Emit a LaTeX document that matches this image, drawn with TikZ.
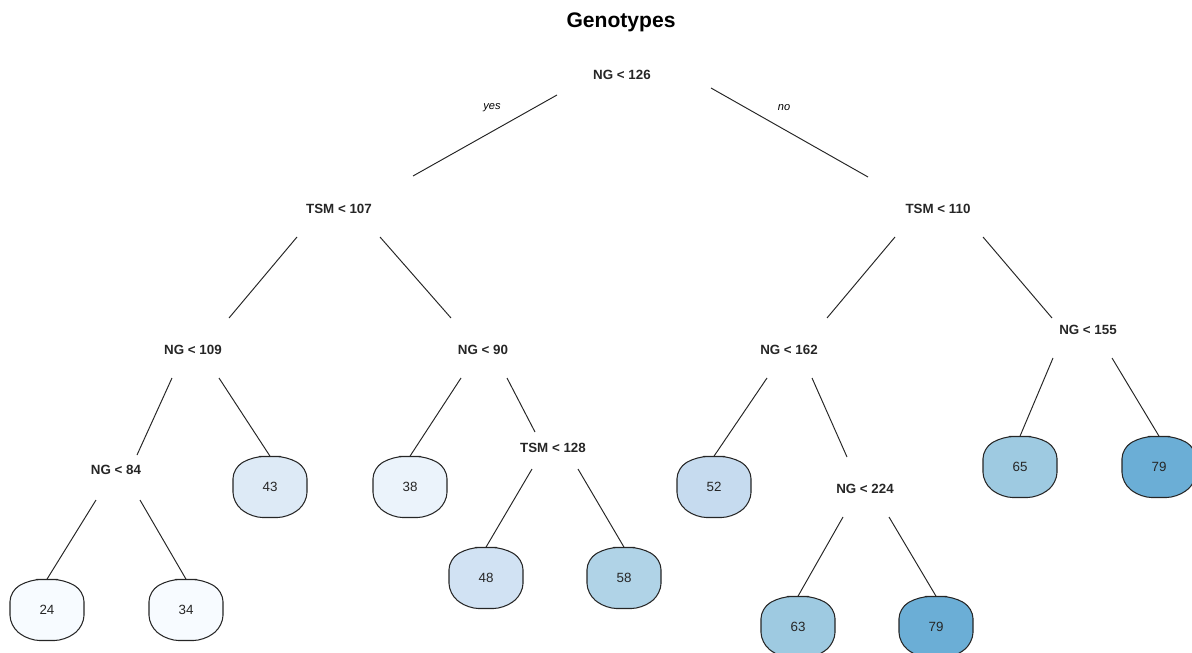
\documentclass[tikz,border=0pt]{standalone}
\usepackage{fontspec}
\setmainfont{Liberation Sans}
\usetikzlibrary{positioning,calc}

\definecolor{blA}{HTML}{F7FBFF}
\definecolor{blB}{HTML}{EBF3FB}
\definecolor{blC}{HTML}{DDEAF6}
\definecolor{blD}{HTML}{D1E2F3}
\definecolor{blE}{HTML}{C6DBEF}
\definecolor{blF}{HTML}{B0D3E7}
\definecolor{blG}{HTML}{9ECAE1}
\definecolor{blH}{HTML}{6BAED6}

\tikzset{
	split/.style = {inner sep = 1pt, text = black!85, font = \fontsize{7.6}{9}\selectfont\bfseries},
	leaf/.style = {inner sep = 0pt, minimum width = 1.48cm, minimum height = 1.22cm, text = black!85, font = \fontsize{7.6}{9}\selectfont},
	leafline/.style = {line width = 0.6pt, draw = black!85, rounded corners = 6pt, line join = round},
	branch/.style = {line width = 0.55pt, draw = black!85},
	side/.style = {font = \fontsize{6.3}{7}\selectfont\itshape}
}

% leaf box: name, position, colour, value
\newcommand{\leafnode}[4]{
	\begin{scope}[shift = {(#2)}]
		\draw [leafline, fill = #3] (0,-30.5) -- (-17,-30.5) -- (-37,-19) -- (-37,16) -- (-18,30.5)
			-- (18,30.5) -- (37,16) -- (37,-19) -- (17,-30.5) -- cycle;
		\node [leaf] (#1) at (0,0) {#4};
	\end{scope}
}

\begin{document}
\begin{tikzpicture}[x = 0.02cm, y = -0.02cm]
\useasboundingbox (0,0) rectangle (1192,652);

\node [font = \fontsize{12}{14}\selectfont\bfseries] (title) at (621,22) {Genotypes};

% splits
\node [split] (root) at (622,75) {NG < 126};
\node [split] (tl) at (339,209) {TSM < 107};
\node [split] (tr) at (938,209) {TSM < 110};
\node [split] (ngA) at (193,350) {NG < 109};
\node [split] (ngB) at (483,350) {NG < 90};
\node [split] (ngC) at (789,350) {NG < 162};
\node [split] (ngD) at (1088,330) {NG < 155};
\node [split] (ngE) at (116,470) {NG < 84};
\node [split] (tsm) at (553,448) {TSM < 128};
\node [split] (ngF) at (865,489) {NG < 224};

\node [side] (yes) at (492,108) {yes};
\node [side] (no) at (784,108) {no};

% leaves
\leafnode{l24}{47,610}{blA}{24}
\leafnode{l34}{186,610}{blA}{34}
\leafnode{l43}{270,487}{blC}{43}
\leafnode{l38}{410,487}{blB}{38}
\leafnode{l48}{486,578}{blD}{48}
\leafnode{l58}{624,578}{blF}{58}
\leafnode{l52}{714,487}{blE}{52}
\leafnode{l63}{798,627}{blG}{63}
\leafnode{l79a}{936,627}{blH}{79}
\leafnode{l65}{1020,467}{blG}{65}
\leafnode{l79b}{1159,467}{blH}{79}

% branches
\draw [branch] ([shift = {(-65,20)}]root.center) -- ([shift = {(74,-33)}]tl.center);
\draw [branch] ([shift = {(89,13)}]root.center) -- ([shift = {(-70,-32)}]tr.center);

\draw [branch] ([shift = {(-42,28)}]tl.center) -- ([shift = {(36,-32)}]ngA.center);
\draw [branch] ([shift = {(41,28)}]tl.center) -- ([shift = {(-32,-32)}]ngB.center);
\draw [branch] ([shift = {(-43,28)}]tr.center) -- ([shift = {(38,-32)}]ngC.center);
\draw [branch] ([shift = {(45,28)}]tr.center) -- ([shift = {(-36,-12)}]ngD.center);

\draw [branch] ([shift = {(-21,28)}]ngA.center) -- ([shift = {(21,-15)}]ngE.center);
\draw [branch] ([shift = {(26,28)}]ngA.center) -- (l43.north);
\draw [branch] ([shift = {(-22,28)}]ngB.center) -- (l38.north);
\draw [branch] ([shift = {(24,28)}]ngB.center) -- ([shift = {(-18,-16)}]tsm.center);
\draw [branch] ([shift = {(-22,28)}]ngC.center) -- (l52.north);
\draw [branch] ([shift = {(23,28)}]ngC.center) -- ([shift = {(-18,-32)}]ngF.center);
\draw [branch] ([shift = {(-35,28)}]ngD.center) -- (l65.north);
\draw [branch] ([shift = {(24,28)}]ngD.center) -- (l79b.north);

\draw [branch] ([shift = {(-20,30)}]ngE.center) -- (l24.north);
\draw [branch] ([shift = {(24,30)}]ngE.center) -- (l34.north);
\draw [branch] ([shift = {(-21,21)}]tsm.center) -- (l48.north);
\draw [branch] ([shift = {(25,21)}]tsm.center) -- (l58.north);
\draw [branch] ([shift = {(-22,28)}]ngF.center) -- (l63.north);
\draw [branch] ([shift = {(24,28)}]ngF.center) -- (l79a.north);

\end{tikzpicture}
\end{document}
